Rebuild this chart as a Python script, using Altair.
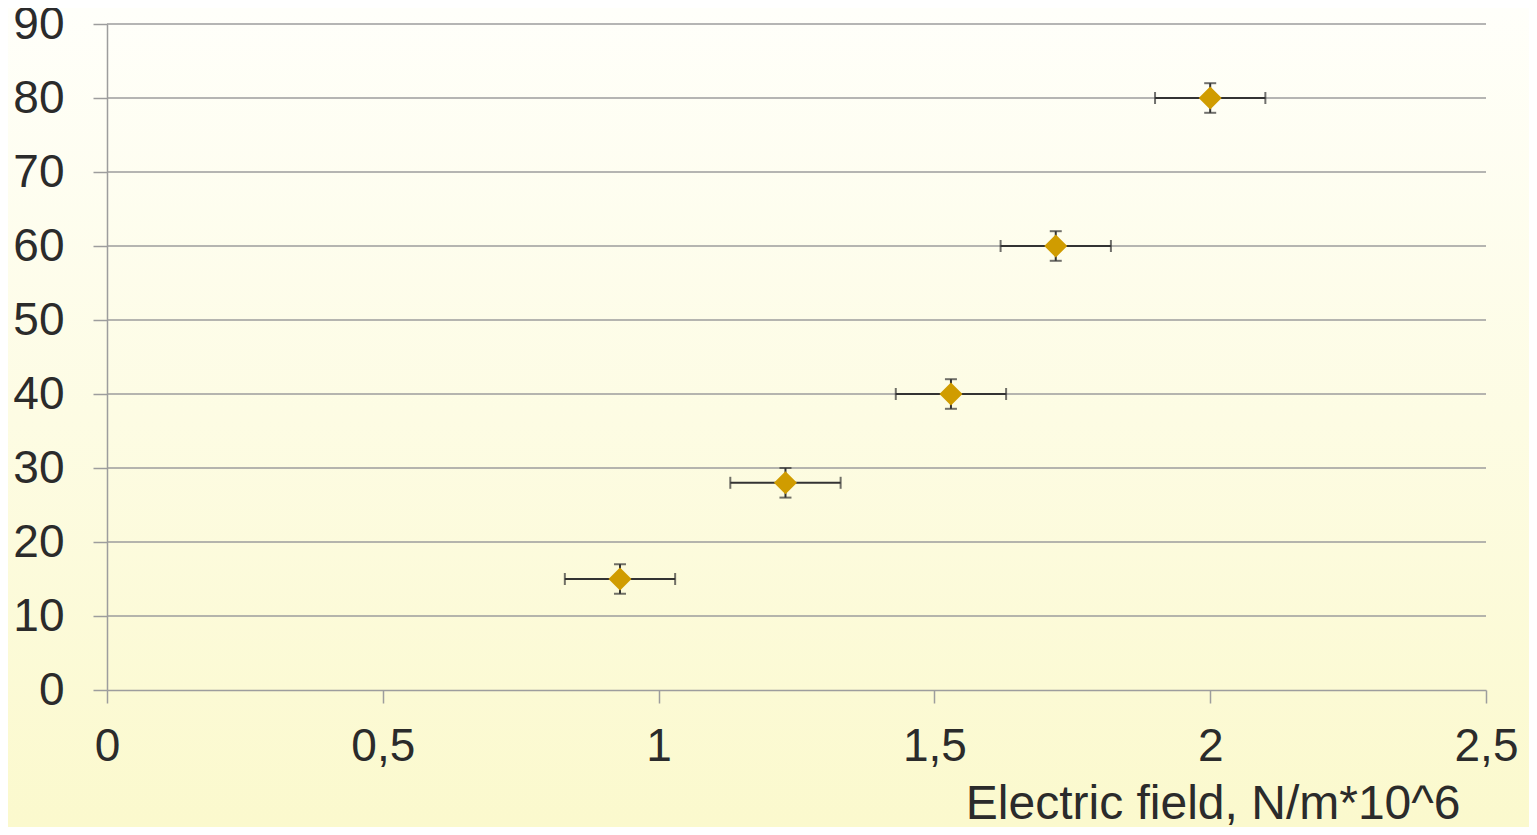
import altair as alt
import pandas as pd

# Data
field = [0.93, 1.23, 1.53, 1.72, 2.0]
value = [15, 28, 40, 60, 80]
field_err = [0.1, 0.1, 0.1, 0.1, 0.1]
value_err = [2, 2, 2, 2, 2]
x_ticks = [0, 0.5, 1, 1.5, 2, 2.5]
y_ticks = [0, 10, 20, 30, 40, 50, 60, 70, 80, 90]
x_title = "Electric field, N/m*10^6"

df = pd.DataFrame({
    "x": field,
    "y": value,
    "xlo": [a - b for a, b in zip(field, field_err)],
    "xhi": [a + b for a, b in zip(field, field_err)],
    "ylo": [a - b for a, b in zip(value, value_err)],
    "yhi": [a + b for a, b in zip(value, value_err)],
})
grid_df = pd.DataFrame({"g": y_ticks[1:]})

W, H = 1379, 666
PL, PT, PR, PB = 99, 16, 43, 137

FONT = "Liberation Sans"
TXT = "#2b2b2b"
GRID = "#9d9d9d"

xscale = alt.Scale(domain=[0, 2.5], nice=False, zero=False)
yscale = alt.Scale(domain=[0, 90], nice=False, zero=False)

xaxis = alt.Axis(
    values=x_ticks, grid=False,
    labelExpr="replace(format(datum.value, '~g'), '.', ',')",
    labelFont=FONT, labelFontSize=46, labelColor=TXT, labelPadding=21,
    tickSize=13, tickColor=GRID, tickWidth=1.5, domainColor=GRID, domainWidth=1.5,
    title=x_title, titleFont=FONT, titleFontSize=48, titleFontWeight="normal",
    titleColor=TXT, titleAlign="right", titleBaseline="alphabetic",
    titleX=1353, titleY=128, zindex=1, labelFlush=False, labelOverlap=False,
)
yaxis = alt.Axis(
    values=y_ticks, grid=False, format="d",
    labelFont=FONT, labelFontSize=46, labelColor=TXT, labelPadding=29,
    tickSize=14, tickColor=GRID, tickWidth=1.5, domainColor=GRID, domainWidth=1.5,
    title=None, zindex=1, labelFlush=False, labelOverlap=False,
)

base = alt.Chart(df)

bg = alt.Chart(grid_df).mark_rect(
    fill=alt.Gradient(
        gradient="linear", x1=0, y1=0, x2=0, y2=1,
        stops=[alt.GradientStop(color="#fffffa", offset=0),
               alt.GradientStop(color="#fbf9cd", offset=1)],
    )
).encode(
    x=alt.value(-PL), x2=alt.value(W + PR),
    y=alt.value(-PT), y2=alt.value(H + PB),
)

grid = alt.Chart(grid_df).mark_rule(color=GRID, strokeWidth=1.5).encode(
    x=alt.value(0), x2=alt.value(W),
    y=alt.Y("g:Q", scale=yscale, axis=yaxis),
)

xbar = base.mark_rule(color="#333333", strokeWidth=2).encode(
    x=alt.X("xlo:Q", scale=xscale, axis=xaxis), x2="xhi:Q",
    y=alt.Y("y:Q", scale=yscale, axis=yaxis),
)
ybar = base.mark_rule(color="#333333", strokeWidth=2).encode(
    x=alt.X("x:Q", scale=xscale, axis=xaxis),
    y=alt.Y("ylo:Q", scale=yscale, axis=yaxis), y2="yhi:Q",
)
cap_xlo = base.mark_tick(color="#333333", orient="vertical", size=12, thickness=2).encode(
    x=alt.X("xlo:Q", scale=xscale, axis=xaxis), y=alt.Y("y:Q", scale=yscale, axis=yaxis),
)
cap_xhi = base.mark_tick(color="#333333", orient="vertical", size=12, thickness=2).encode(
    x=alt.X("xhi:Q", scale=xscale, axis=xaxis), y=alt.Y("y:Q", scale=yscale, axis=yaxis),
)
cap_ylo = base.mark_tick(color="#333333", orient="horizontal", size=12, thickness=2).encode(
    x=alt.X("x:Q", scale=xscale, axis=xaxis), y=alt.Y("ylo:Q", scale=yscale, axis=yaxis),
)
cap_yhi = base.mark_tick(color="#333333", orient="horizontal", size=12, thickness=2).encode(
    x=alt.X("x:Q", scale=xscale, axis=xaxis), y=alt.Y("yhi:Q", scale=yscale, axis=yaxis),
)
pts = base.mark_point(shape="diamond", filled=True, size=529, color="#d09c00", opacity=1).encode(
    x=alt.X("x:Q", scale=xscale, axis=xaxis), y=alt.Y("y:Q", scale=yscale, axis=yaxis),
)

chart = alt.layer(bg, grid, xbar, ybar, cap_xlo, cap_xhi, cap_ylo, cap_yhi, pts).properties(
    width=W, height=H,
    autosize=alt.AutoSizeParams(type="none"),
    padding={"left": PL, "top": PT, "right": PR, "bottom": PB},
).configure_view(stroke=None).configure(background="#fbf9cd")

chart.save("out.html", embed_options={"renderer": "svg", "actions": False})
